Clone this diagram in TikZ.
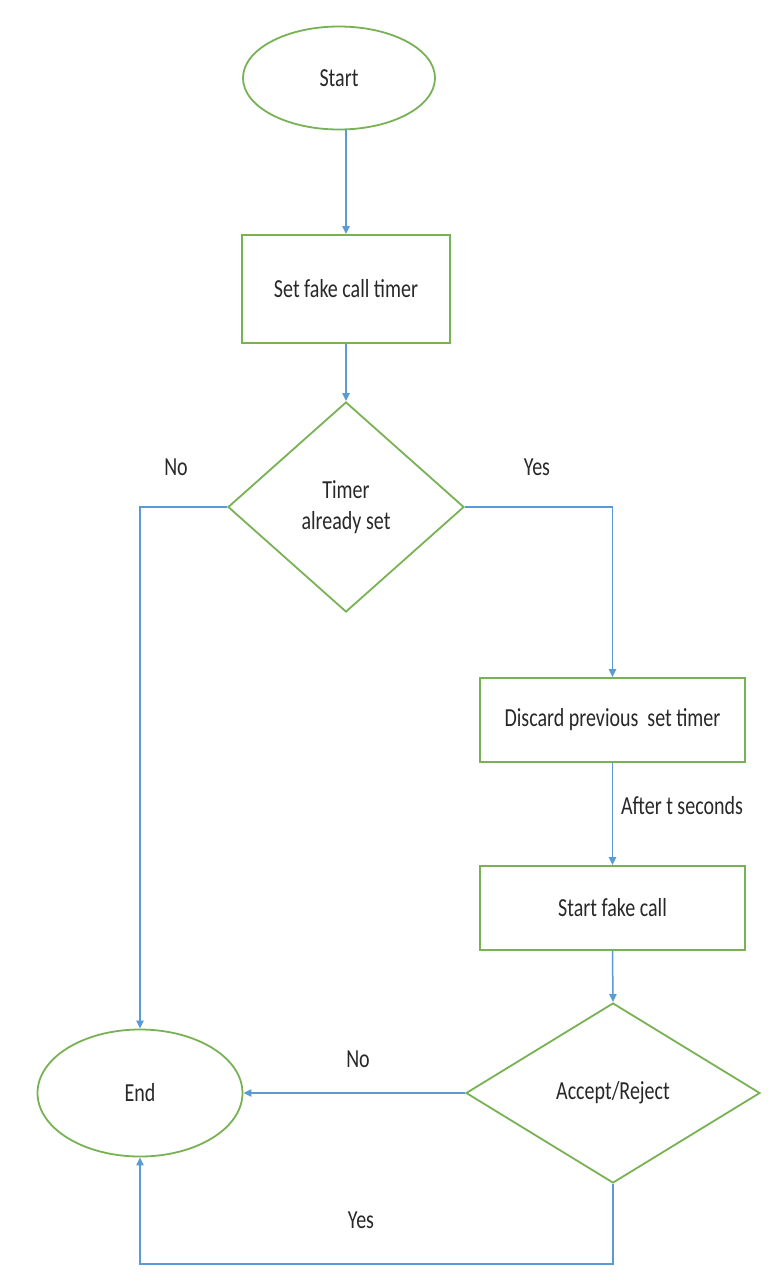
\documentclass[tikz,border=0pt]{standalone}
\usepackage{graphicx}
\usepackage{fontspec}
\setmainfont{Carlito}
\usetikzlibrary{shapes.geometric,arrows.meta}
\definecolor{boxgreen}{RGB}{120,178,84}
\definecolor{lineblue}{RGB}{91,155,213}
\definecolor{txtgray}{RGB}{40,40,40}
\newcommand{\vtxt}[1]{\scalebox{1}[1.3]{#1}}
\begin{document}
\begin{tikzpicture}[x=0.5pt,y=-0.5pt,
  every node/.style={font=\fontsize{10}{15.5}\selectfont,text=txtgray},
  termbox/.style={ellipse,draw=boxgreen,line width=0.9pt,inner sep=0pt},
  procbox/.style={rectangle,draw=boxgreen,line width=0.9pt,inner sep=0pt},
  decbox/.style={diamond,draw=boxgreen,line width=0.9pt,inner sep=0pt,align=center},
  arr/.style={draw=lineblue,line width=0.75pt,-{Triangle[length=4pt,width=3.6pt,fill=lineblue]}},
  lbl/.style={inner sep=0pt}]
\useasboundingbox (0,0) rectangle (779,1280);
\fill[white] (0,0) rectangle (779,1280);

\node[termbox,minimum width=96pt,minimum height=51.5pt] (start) at (339,78) {\vtxt{Start}};
\node[procbox,minimum width=104pt,minimum height=54pt] (r1) at (346,289) {\vtxt{Set fake call timer}};
\node[decbox,minimum width=118pt,minimum height=105pt] (d1) at (346,507) {\vtxt{Timer}\\\vtxt{already set}};
\node[procbox,minimum width=132.5pt,minimum height=42pt] (r2) at (612.5,720) {\vtxt{Discard previous\ \ set timer}};
\node[procbox,minimum width=132.5pt,minimum height=42pt] (r3) at (612.5,908) {\vtxt{Start fake call}};
\node[decbox,minimum width=147pt,minimum height=90pt] (d2) at (613,1093) {\vtxt{Accept/Reject}};
\node[termbox,minimum width=102.5pt,minimum height=63.5pt] (end) at (140,1093) {\vtxt{End}};

\node[lbl] (lno1) at (176,467) {\vtxt{No}};
\node[lbl] (lyes1) at (537,467) {\vtxt{Yes}};
\node[lbl] (lafter) at (682,806) {\vtxt{After t seconds}};
\node[lbl] (lno2) at (358,1059) {\vtxt{No}};
\node[lbl] (lyes2) at (361,1220) {\vtxt{Yes}};

\coordinate (ybot) at (0,1264);

\draw[arr] (start.south -| r1.north) -- (r1.north);
\draw[arr] (r1.south) -- (d1.north);
\draw[arr] (d1.west) -| (end.north);
\draw[arr] (d1.east) -| (r2.north);
\draw[arr] (r2.south) -- (r3.north);
\draw[arr] (r3.south) -- (d2.north);
\draw[arr] (d2.west) -- (end.east);
\draw[arr] (d2.south) -- (d2.south |- ybot) -| (end.south);
\end{tikzpicture}
\end{document}
